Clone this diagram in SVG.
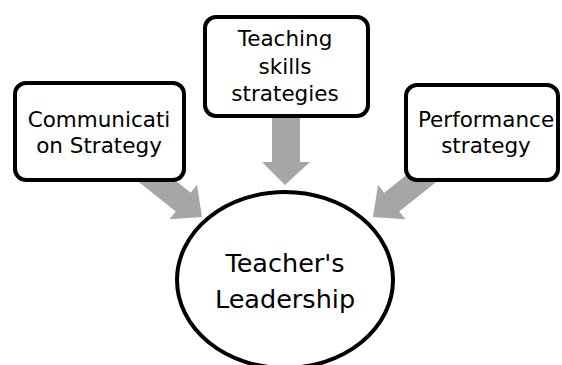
<svg xmlns="http://www.w3.org/2000/svg" width="562" height="365" viewBox="0 0 562 365">
  <style>
    .box { fill: #ffffff; stroke: #000000; stroke-width: 4; }
    .arrow { fill: #a6a6a6; stroke: none; }
    .label { font-family: "DejaVu Sans", "Open Sans", sans-serif; font-size: 21.5px; fill: #000000; text-anchor: middle; }
    .big { font-size: 25.5px; }
  </style>
  <rect width="562" height="365" fill="#ffffff"/>

  <!-- block arrows, drawn first so the boxes cover their tails -->
  <g id="connectors">
    <polygon class="arrow" points="272,105 300,105 300,162 310,162 285,185 262,162 272,162"/>
    <polygon class="arrow" transform="translate(202,217) rotate(38.6)" points="0,0 -24,-22 -24,-12 -80,-12 -80,12 -24,12 -24,22"/>
    <polygon class="arrow" transform="translate(373,217) rotate(141.4)" points="0,0 -24,-22 -24,-12 -80,-12 -80,12 -24,12 -24,22"/>
  </g>

  <g id="communication">
    <rect class="box" x="15" y="83" width="169" height="97" rx="11"/>
    <text class="label" x="99" y="127">Communicati</text>
    <text class="label" x="99" y="153">on Strategy</text>
  </g>

  <g id="teaching">
    <rect class="box" x="205" y="17" width="163" height="99" rx="11"/>
    <text class="label" x="285" y="46">Teaching</text>
    <text class="label" x="285" y="74">skills</text>
    <text class="label" x="285" y="101">strategies</text>
  </g>

  <g id="performance">
    <rect class="box" x="406" y="85" width="152" height="95" rx="11"/>
    <text class="label" x="486" y="127">Performance</text>
    <text class="label" x="486" y="153">strategy</text>
  </g>

  <g id="leadership">
    <ellipse class="box" cx="285" cy="280" rx="108" ry="88"/>
    <text class="label big" x="285" y="272">Teacher's</text>
    <text class="label big" x="285" y="308">Leadership</text>
  </g>
</svg>
